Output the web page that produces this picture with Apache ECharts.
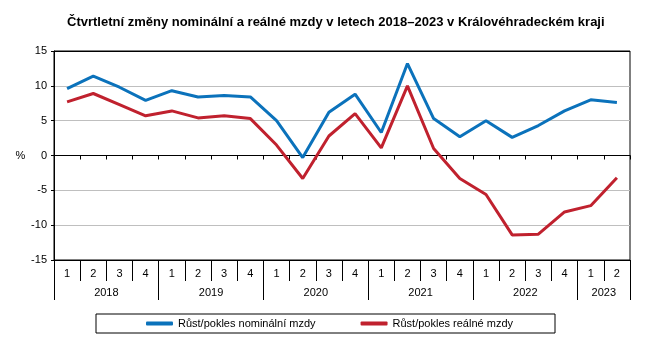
<!DOCTYPE html>
<html><head><meta charset="utf-8">
<script src="https://cdn.jsdelivr.net/npm/echarts@6/dist/echarts.min.js"></script>
<style>html,body{margin:0;padding:0;background:#fff}#c{width:654px;height:355px}</style>
</head><body><div id="c"></div>
<script>
const title = 'Čtvrtletní změny nominální a reálné mzdy v letech 2018–2023 v Královéhradeckém kraji';
const years = ['2018','2019','2020','2021','2022','2023'];
const quartersPerYear = [4,4,4,4,4,2];
const quarterLabels = ['1','2','3','4','1','2','3','4','1','2','3','4','1','2','3','4','1','2','3','4','1','2'];
const nominalName = 'Růst/pokles nominální mzdy';
const realName = 'Růst/pokles reálné mzdy';
const nominal = [9.6,11.4,9.8,7.9,9.3,8.4,8.6,8.4,5.0,-0.3,6.2,8.8,3.3,13.2,5.3,2.7,5.0,2.6,4.3,6.4,8.0,7.6];
const real = [7.7,8.9,7.3,5.7,6.4,5.4,5.7,5.3,1.5,-3.3,2.8,6.0,1.1,10.0,1.0,-3.3,-5.6,-11.4,-11.3,-8.1,-7.2,-3.2];
const yTicks = [-15,-10,-5,0,5,10,15];

// year axis built from half-quarter points
const yearPoints = [];
const yearBoundaries = new Set([0]);
const yearCenters = {};
let pos = 0;
years.forEach((y,i)=>{
  const half = quartersPerYear[i]*2;
  yearCenters[pos + half/2] = y;
  pos += half;
  yearBoundaries.add(pos);
});
for (let k=0;k<=pos;k++) yearPoints.push(yearCenters[k] || '');

const font = 'Liberation Sans, Arial, sans-serif';
const chart = echarts.init(document.getElementById('c'));
chart.setOption({
  animation:false,
  textStyle:{fontFamily:font},
  title:{text:title,left:62,top:11,textStyle:{fontSize:13,fontWeight:'bold',color:'#000',fontFamily:font}},
  grid:{left:54,right:24,top:51,bottom:95,show:true,borderColor:'#000',borderWidth:1,backgroundColor:'transparent'},
  legend:{
    left:96,top:314,padding:[4,42,4,50],itemGap:45,itemWidth:27,itemHeight:4,icon:'roundRect',
    borderColor:'#000',borderWidth:1,
    textStyle:{fontSize:11,color:'#000',fontFamily:font},
    data:[nominalName,realName]
  },
  xAxis:[
    {type:'category',data:quarterLabels,position:'bottom',boundaryGap:true,
     axisLine:{onZero:false,lineStyle:{color:'#000',width:1}},
     axisTick:{show:true,interval:0,length:21,lineStyle:{color:'#000'}},
     axisLabel:{interval:0,margin:8,fontSize:11,color:'#000'}},
    {type:'category',data:quarterLabels,position:'bottom',boundaryGap:true,
     axisLine:{onZero:true,lineStyle:{color:'#000',width:1}},
     axisTick:{show:true,interval:0,length:4,lineStyle:{color:'#000'}},
     axisLabel:{show:false}},
    {type:'category',data:yearPoints,position:'bottom',boundaryGap:false,
     axisLine:{show:false,onZero:false},
     axisTick:{show:true,length:40,interval:(i)=>yearBoundaries.has(i),lineStyle:{color:'#000'}},
     axisLabel:{interval:(i,v)=>v!=='',margin:27,fontSize:11,color:'#000'}}
  ],
  yAxis:{type:'value',min:-15,max:15,interval:5,
    name:'%',nameLocation:'middle',nameRotate:0,nameGap:27,nameTextStyle:{fontSize:11,color:'#000'},
    axisLine:{show:true,lineStyle:{color:'#000'}},
    axisTick:{show:true,length:3,lineStyle:{color:'#000'}},
    axisLabel:{fontSize:11,color:'#000',margin:7},
    splitLine:{show:true,lineStyle:{color:yTicks.map(v=>(v===0||Math.abs(v)===15)?'#000':'#bfbfbf'),width:1}}
  },
  series:[
    {name:nominalName,type:'line',xAxisIndex:0,data:nominal,symbol:'none',lineStyle:{width:3,color:'#0B72BB'},itemStyle:{color:'#0B72BB'}},
    {name:realName,type:'line',xAxisIndex:0,data:real,symbol:'none',lineStyle:{width:3,color:'#C0212E'},itemStyle:{color:'#C0212E'}}
  ]
});
</script></body></html>
